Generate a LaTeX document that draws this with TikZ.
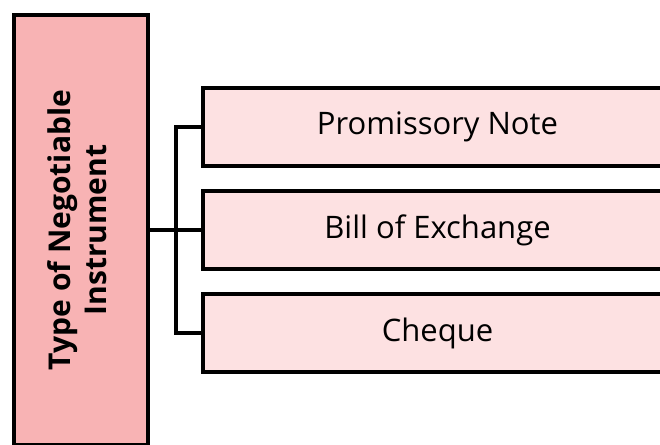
\documentclass[tikz,border=0pt]{standalone}
\usepackage{fontspec}
\setmainfont{Open Sans}
\definecolor{leftfill}{HTML}{F8B3B4}
\definecolor{rightfill}{HTML}{FDE1E2}
\begin{document}
\begin{tikzpicture}[x=1pt,y=-1pt,
  box/.style={draw=black, line width=4pt, inner sep=0pt, outer sep=0pt, anchor=north west},
  leaf/.style={box, fill=rightfill, minimum width=469pt, minimum height=78pt, font=\fontsize{31}{36}\selectfont},
  conn/.style={draw=black, line width=4pt, line join=miter}]
\useasboundingbox (0,0) rectangle (660,444);
\clip (0,0) rectangle (660,444);
\node[box, fill=leftfill, minimum width=134pt, minimum height=430pt] (root) at (14,15)
  {\rotatebox{90}{\fontsize{30}{39}\selectfont\bfseries\begin{tabular}{@{}c@{}}Type of Negotiable\\[-3pt]Instrument\end{tabular}}};
\node[leaf] (p) at (203,88) {Promissory Note};
\node[leaf] (b) at (203,191) {Bill of Exchange};
\node[leaf] (c) at (203,294) {Cheque};
\coordinate (j) at ([xshift=27.5pt]root.east);
\draw[conn] (root.east) -- (j);
\draw[conn] (p.west) -| (j);
\draw[conn] (c.west) -| (j);
\draw[conn] (b.west) -- (b.west -| j);
\end{tikzpicture}
\end{document}
